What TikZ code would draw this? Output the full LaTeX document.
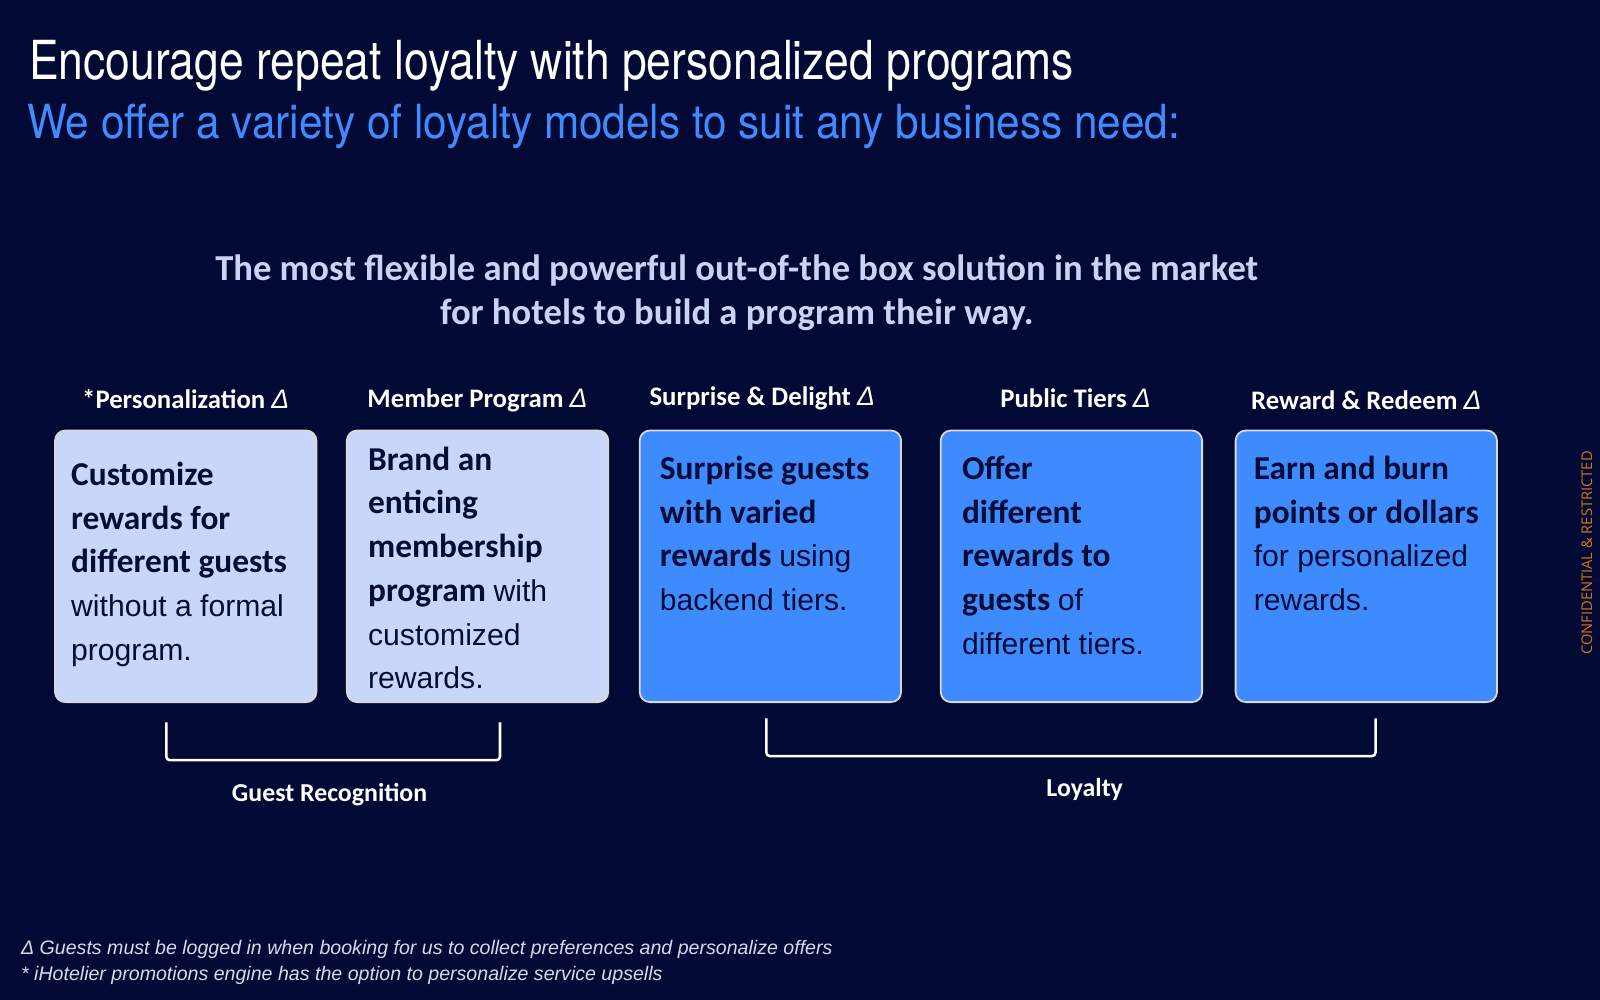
\documentclass[tikz,border=0pt]{standalone}
\usepackage{fontspec}
\setmainfont{Carlito}
\newfontfamily\titlefont{TeX Gyre Heros}
\newfontfamily\plainfont{Liberation Sans}
\newfontfamily\tagfont{Open Sans}
\usetikzlibrary{positioning}
\definecolor{slidebg}{RGB}{1,9,52}
\definecolor{paleblue}{RGB}{199,214,249}
\definecolor{brightblue}{RGB}{61,139,255}
\definecolor{subblue}{RGB}{64,140,255}
\definecolor{lavender}{RGB}{200,212,246}
\definecolor{inkblue}{RGB}{5,12,55}
\definecolor{noteGray}{RGB}{214,218,232}
\definecolor{tagorange}{RGB}{214,116,20}
\tikzset{
  card/.style={draw=black!15, line width=0.5pt, rounded corners=0.1cm, minimum width=2.56cm, minimum height=2.66cm, inner sep=0pt},
  palecard/.style={card, fill=paleblue},
  brightcard/.style={card, fill=brightblue},
  cardtext/.style={inner sep=0pt, align=left, text=inkblue, font=\fontsize{9.3}{12.2}\selectfont},
  cardhead/.style={text=white, font=\fontsize{7.45}{9}\selectfont\bfseries, inner sep=0pt},
  brace/.style={draw=white, line width=0.7pt, rounded corners=1pt},
  bracelabel/.style={text=white, font=\fontsize{7.2}{9}\selectfont\bfseries, inner sep=0pt}
}
\newcommand{\lt}[1]{{\plainfont\fontsize{8.4}{12.2}\selectfont #1}}
\newcommand{\dlt}{{\plainfont\itshape\mdseries Δ}}

\begin{document}
\begin{tikzpicture}[x=0.01cm, y=-0.01cm]
\fill[slidebg] (0,0) rectangle (1568,980);
\useasboundingbox (0,0) rectangle (1568,980);

\node[anchor=base west, inner sep=0pt, text=white] (title) at (28,78)
  {\scalebox{0.826}[1]{\titlefont\fontsize{15}{18}\selectfont Encourage repeat loyalty with personalized programs}};
\node[anchor=base west, inner sep=0pt, text=subblue] (subtitle) at (26,136)
  {\scalebox{0.90}[1]{\titlefont\fontsize{13.1}{16}\selectfont We offer a variety of loyalty models to suit any business need:}};

\node[align=center, text=lavender, font=\fontsize{10.2}{12.2}\selectfont\bfseries, inner sep=0pt] (lead) at (722,287)
  {The most flexible and powerful out-of-the box solution in the market\\for hotels to build a program their way.};

% cards
\node[palecard] (c1) at (182,555) {};
\node[palecard] (c2) at (468,555) {};
\node[brightcard] (c3) at (755,555) {};
\node[brightcard] (c4) at (1050,555) {};
\node[brightcard] (c5) at (1339,555) {};

\node[cardhead, above=0.21cm of c1, anchor=base] (h1) {*Personalization \dlt};
\node[cardhead, above=0.22cm of c2, anchor=base] (h2) {Member Program \dlt};
\node[cardhead, above=0.24cm of c3, anchor=base, xshift=-0.08cm] (h3) {Surprise \& Delight \dlt};
\node[cardhead, above=0.22cm of c4, anchor=base, xshift=0.04cm] (h4) {Public Tiers \dlt};
\node[cardhead, above=0.20cm of c5, anchor=base] (h5) {Reward \& Redeem \dlt};

\node[cardtext, below right=0.31cm and 0.16cm of c1.north west] (t1)
  {\textbf{Customize}\\\textbf{rewards for}\\\textbf{different guests}\\\lt{without a formal}\\\lt{program.}};
\node[cardtext, below right=0.16cm and 0.21cm of c2.north west] (t2)
  {\textbf{Brand an}\\\textbf{enticing}\\\textbf{membership}\\\textbf{program} \lt{with}\\\lt{customized}\\\lt{rewards.}};
\node[cardtext, below right=0.25cm and 0.2cm of c3.north west] (t3)
  {\textbf{Surprise guests}\\\textbf{with varied}\\\textbf{rewards} \lt{using}\\\lt{backend tiers.}};
\node[cardtext, below right=0.25cm and 0.21cm of c4.north west] (t4)
  {\textbf{Offer}\\\textbf{different}\\\textbf{rewards to}\\\textbf{guests} \lt{of}\\\lt{different tiers.}};
\node[cardtext, below right=0.25cm and 0.18cm of c5.north west] (t5)
  {\textbf{Earn and burn}\\\textbf{points or dollars}\\\lt{for personalized}\\\lt{rewards.}};

% groups
\draw[brace] (163,708) |- (490,745) -- (490,708);
\draw[brace] (751,704) |- (1348,741) -- (1348,704);
\node[bracelabel] (g1) at (323,779) {Guest Recognition};
\node[bracelabel] (g2) at (1063,774) {Loyalty};

% notes
\node[anchor=base west, inner sep=0pt, text=noteGray, font=\plainfont\itshape\fontsize{5.46}{7}\selectfont] (n1) at (20,935)
  {Δ Guests must be logged in when booking for us to collect preferences and personalize offers};
\node[anchor=base west, inner sep=0pt, text=noteGray, font=\plainfont\itshape\fontsize{5.46}{7}\selectfont] (n2) at (20,961)
  {* iHotelier promotions engine has the option to personalize service upsells};

\node[rotate=90, inner sep=0pt, text=tagorange, font=\tagfont\fontsize{4.1}{5}\selectfont] (tag) at (1555,542)
  {CONFIDENTIAL \& RESTRICTED};
\end{tikzpicture}
\end{document}
